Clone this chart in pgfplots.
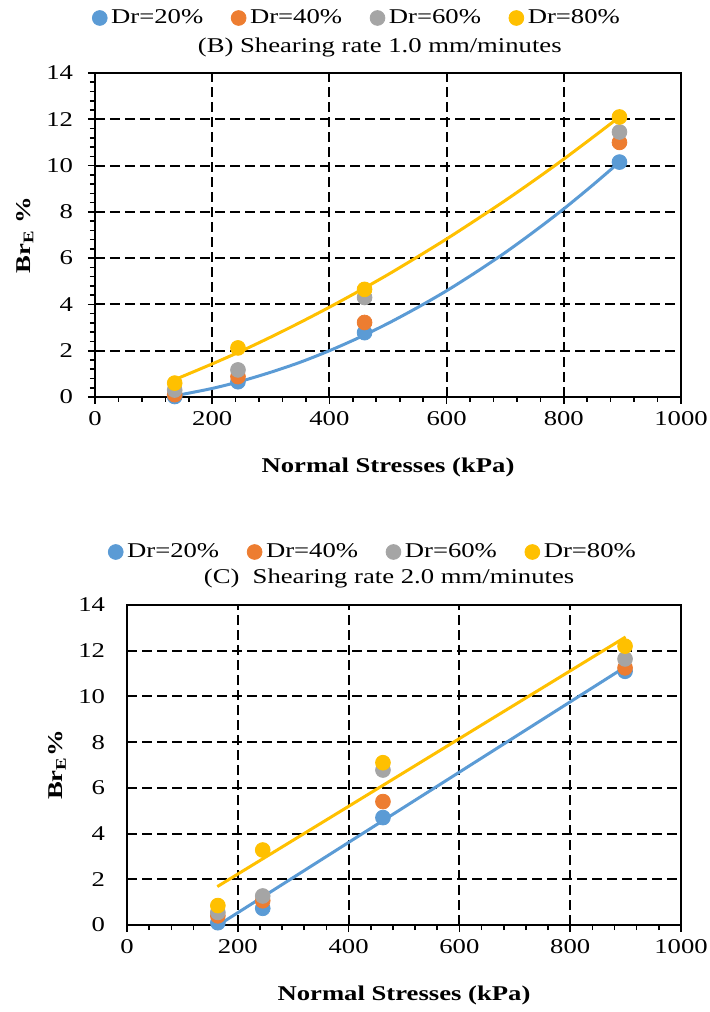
\documentclass[border=0pt]{standalone}
\usepackage{fontspec}
\setmainfont{Liberation Serif}[FakeStretch=1.27]
\usepackage{pgfplots}
\pgfplotsset{compat=1.18}
\definecolor{cblue}{HTML}{5B9BD5}
\definecolor{corange}{HTML}{ED7D31}
\definecolor{cgray}{HTML}{A5A5A5}
\definecolor{cyellow}{HTML}{FFC000}
\newcommand\f{\fontsize{10.5}{12.6}\selectfont}
\pgfplotsset{
  common/.style={
    scale only axis,
    xmin=0, xmax=1000, ymin=0, ymax=14,
    xtick={0,200,...,1000}, ytick={0,2,...,14},
    minor x tick num=4,
    xtick pos=bottom, ytick pos=left,
    tick align=outside,
    major tick length=3.5pt, minor tick length=2.5pt,
    tick style={black, line width=0.8pt},
    axis line style={black, line width=1pt},
    xmajorgrids, ymajorgrids,
    major grid style={black, line width=1pt, dash pattern=on 5pt off 2.5pt},
    /pgf/number format/assume math mode=true,
    /pgf/number format/1000 sep={},
    ticklabel style={font=\f},
    yticklabel style={xshift=-4pt},
    label style={font=\f},
    legend columns=4,
    legend cell align=left,
    legend style={draw=none, fill=none, font=\f, inner sep=0pt,
      /tikz/every even column/.append style={column sep=12pt}},
    legend image code/.code={\draw[#1] plot coordinates {(0.12cm,0cm)};},
    xlabel={\textbf{Normal Stresses (kPa)}},
    xlabel style={at={(axis description cs:0.5,0)}, anchor=center, yshift=-35pt},
  },
  pts/.style={only marks, mark=*, mark size=3.7pt, mark options={draw=#1, fill=#1}},
  trend/.style={no markers, line width=1.5pt, color=#1, smooth},
}
\begin{document}
\begin{tikzpicture}
\useasboundingbox (0,0) rectangle (355pt,506pt);
% ---------- (B) ----------
\begin{axis}[common,
  at={(47.5pt,307.5pt)}, anchor=south west,
  width=293pt, height=162pt,
  minor y tick num=4,
  title={(B) Shearing rate 1.0 mm/minutes},
  title style={font=\f, at={(0.486,1)}, anchor=center, yshift=7pt},
  legend style={at={(0.449,1)}, anchor=center, yshift=27.5pt},
  ylabel={\textbf{Br\textsubscript{E} \%}},
  ylabel style={at={(axis description cs:-0.12,0.5)}, anchor=center},
]
\addplot[pts=cblue] coordinates {(136,0.02) (244,0.66) (460,2.78) (895,10.15)};
\addlegendentry{Dr=20\%}
\addplot[pts=corange] coordinates {(136,0.1) (244,0.88) (460,3.22) (895,11.0)};
\addlegendentry{Dr=40\%}
\addplot[pts=cgray] coordinates {(136,0.3) (244,1.17) (460,4.3) (895,11.45)};
\addlegendentry{Dr=60\%}
\addplot[pts=cyellow] coordinates {(136,0.6) (244,2.12) (460,4.65) (895,12.1)};
\addlegendentry{Dr=80\%}
\addplot[trend=cblue, forget plot] coordinates {
(136,0.05) (200,0.37) (250,0.69) (300,1.07) (350,1.50) (400,2.00) (450,2.56)
(500,3.18) (550,3.86) (600,4.59) (650,5.39) (700,6.24) (750,7.16) (800,8.13)
(850,9.17) (895,10.15)};
\addplot[trend=cyellow, forget plot] coordinates {
(136,0.75) (200,1.43) (250,1.99) (300,2.59) (350,3.22) (400,3.88) (450,4.57)
(500,5.29) (550,6.05) (600,6.83) (650,7.65) (700,8.49) (750,9.37) (800,10.28)
(850,11.23) (895,12.10)};
\end{axis}
% ---------- (C) ----------
\begin{axis}[common,
  at={(63.5pt,43.5pt)}, anchor=south west,
  width=277pt, height=160pt,
  ytick style={draw=none},
  title={(C)\ \ Shearing rate 2.0 mm/minutes},
  title style={font=\f, at={(0.473,1)}, anchor=center, yshift=7.5pt},
  legend style={at={(0.446,1)}, anchor=center, yshift=26.5pt},
  ylabel={\textbf{Br\textsubscript{E}\%}},
  ylabel style={at={(axis description cs:-0.126,0.5)}, anchor=center},
]
\addplot[pts=cblue] coordinates {(164,0.1) (245,0.73) (462,4.7) (899,11.1)};
\addlegendentry{Dr=20\%}
\addplot[pts=corange] coordinates {(164,0.4) (245,1.06) (462,5.4) (899,11.25)};
\addlegendentry{Dr=40\%}
\addplot[pts=cgray] coordinates {(164,0.55) (245,1.27) (462,6.78) (899,11.64)};
\addlegendentry{Dr=60\%}
\addplot[pts=cyellow] coordinates {(164,0.85) (245,3.28) (462,7.1) (899,12.2)};
\addlegendentry{Dr=80\%}
\addplot[trend=cblue, forget plot] coordinates {(165,0) (900,11.3)};
\addplot[trend=cyellow, forget plot] coordinates {(163,1.68) (900,12.6)};
\end{axis}
\end{tikzpicture}
\end{document}
